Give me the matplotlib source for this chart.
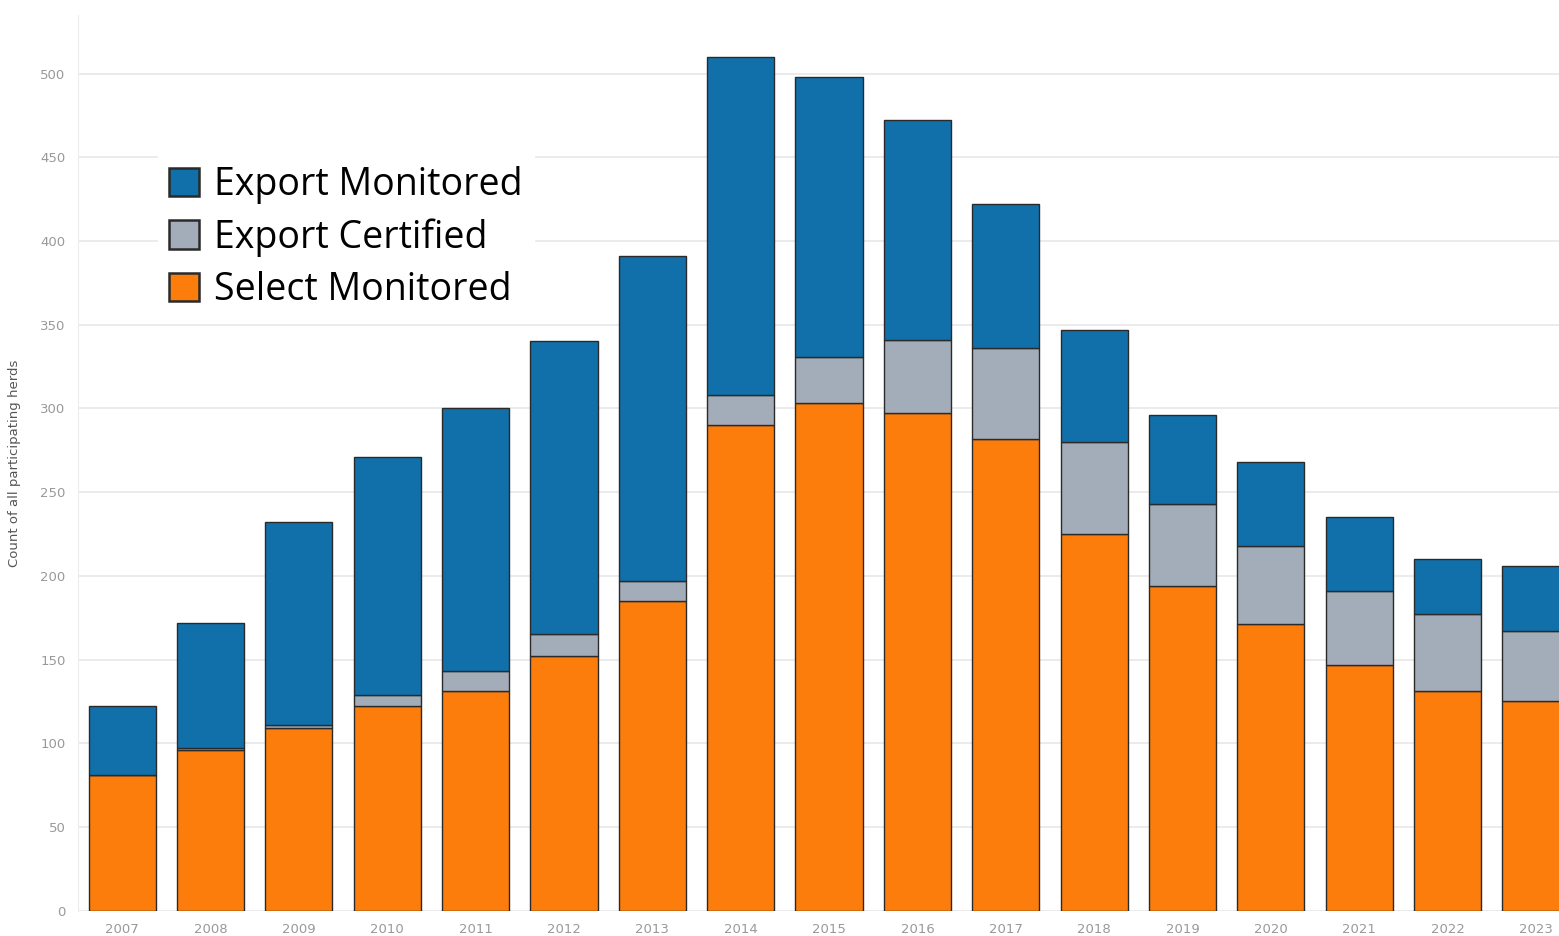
import numpy as np
import matplotlib.pyplot as plt
from matplotlib.patches import Patch

# Datos
years = ['2007', '2008', '2009', '2010', '2011', '2012', '2013', '2014', '2015',
         '2016', '2017', '2018', '2019', '2020', '2021', '2022', '2023']
select_monitored = [81, 96, 109, 122, 131, 152, 185, 290, 303, 297, 282, 225, 194, 171, 147, 131, 125]
export_certified = [0, 1, 2, 7, 12, 13, 12, 18, 28, 44, 54, 55, 49, 47, 44, 46, 42]
export_monitored = [41, 75, 121, 142, 157, 175, 194, 202, 167, 131, 86, 67, 53, 50, 44, 33, 39]

c_blue = '#1170aa'
c_gray = '#a3acb9'
c_orange = '#fc7d0b'
edge = '#2a2a2a'

fig = plt.figure(figsize=(15.59, 9.36), dpi=100)
ax = fig.add_axes([0.05, 0.027, 0.95, 0.957])

x = np.arange(len(years))
w = 0.76
sel = np.array(select_monitored)
cert = np.array(export_certified)
mon = np.array(export_monitored)

ax.bar(x, sel, w, color=c_orange, edgecolor=edge, linewidth=1, zorder=3)
ax.bar(x, cert, w, bottom=sel, color=c_gray, edgecolor=edge, linewidth=1, zorder=3)
ax.bar(x, mon, w, bottom=sel + cert, color=c_blue, edgecolor=edge, linewidth=1, zorder=3)

ax.set_xlim(-0.5, 16.26)
ax.set_ylim(0, 535)
ax.set_yticks(np.arange(0, 501, 50))
ax.set_xticks(x)
ax.set_xticklabels(years)
ax.tick_params(axis='both', length=0, labelsize=9.5, labelcolor='#999999')
ax.tick_params(axis='x', pad=9)
ax.tick_params(axis='y', pad=9)
ax.grid(axis='y', color='#e8e8e8', linewidth=1.2, zorder=0)

for s in ['top', 'right', 'bottom']:
    ax.spines[s].set_visible(False)
ax.spines['left'].set_color('#ececec')

ax.set_ylabel('Count of all participating herds', fontsize=9.5, color='#555555', labelpad=14)

handles = [Patch(facecolor=c_blue, edgecolor=edge, linewidth=1.8, label='Export Monitored'),
           Patch(facecolor=c_gray, edgecolor=edge, linewidth=1.8, label='Export Certified'),
           Patch(facecolor=c_orange, edgecolor=edge, linewidth=1.8, label='Select Monitored')]
leg = ax.legend(handles=handles, loc='upper left', bbox_to_anchor=(0.054, 0.844),
                prop={'family': 'Open Sans', 'size': 27}, frameon=True, fancybox=False,
                edgecolor='white', framealpha=1, handlelength=0.8, handleheight=0.8,
                handletextpad=0.4, labelspacing=0.38, borderpad=0.3, borderaxespad=0)
leg.set_zorder(5)

fig.savefig('out.png', dpi=100)
